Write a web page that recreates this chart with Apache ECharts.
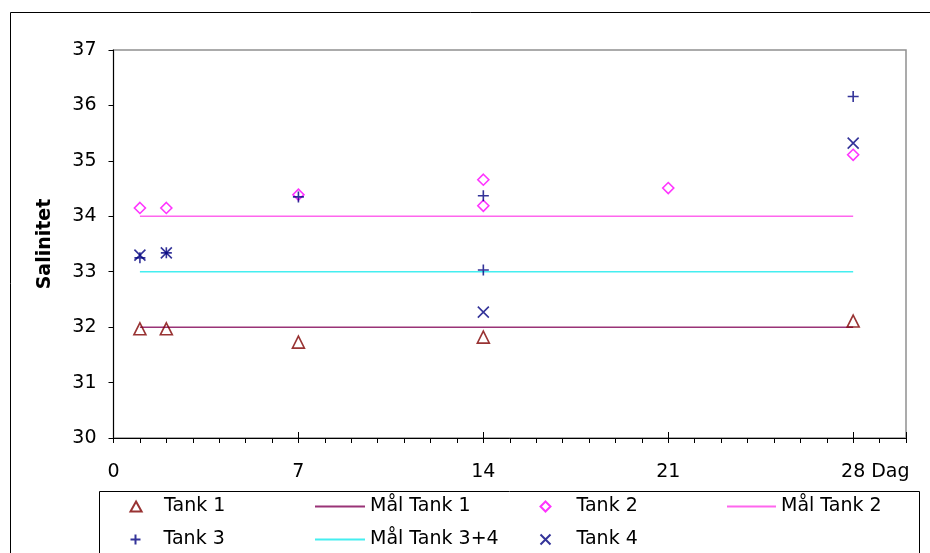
<!DOCTYPE html>
<html>
<head>
<meta charset="utf-8">
<script src="https://cdn.jsdelivr.net/npm/echarts@6/dist/echarts.min.js"></script>
<style>
  html, body { margin: 0; padding: 0; background: #fff; }
  #chart { width: 930px; height: 553px; }
</style>
</head>
<body>
<div id="chart"></div>
<script>
// measured salinity per tank (day, value)
const tank1Days = [1, 2, 7, 14, 28]
const tank1Sal = [31.97, 31.97, 31.73, 31.82, 32.11]
const tank2Days = [1, 2, 7, 14, 14, 21, 28]
const tank2Sal = [34.15, 34.15, 34.39, 34.66, 34.19, 34.51, 35.11]
const tank3Days = [1, 2, 7, 14, 14, 28]
const tank3Sal = [33.25, 33.34, 34.35, 34.37, 33.03, 36.16]
const tank4Days = [1, 2, 14, 28]
const tank4Sal = [33.30, 33.34, 32.27, 35.32]

// target lines
const targetDays = [1, 28]
const maal1 = [32, 32]
const maal2 = [34, 34]
const maal34 = [33, 33]

const xTicks = [0, 7, 14, 21, 28]

const FONT = 'DejaVu Sans'
const pair = (days, vals) => days.map((d, i) => [d, vals[i]])

// outline symbols as paths so they keep their shape in the legend too
const triPath = 'path://M5,0L10,9L0,9Z'
const diamondPath = 'path://M5,0L10,5L5,10L0,5Z'
const plusPath = 'path://M5,0L5,10M0,5L10,5'
const crossPath = 'path://M0,0L10,10M0,10L10,0'

function scatter(name, days, vals, symbol, color, size) {
  return {
    name: name,
    type: 'scatter',
    data: pair(days, vals),
    symbol: symbol,
    symbolSize: size,
    itemStyle: { color: 'none', borderColor: color, borderWidth: 1.6 },
    xAxisIndex: 0,
    yAxisIndex: 0,
    z: 5
  }
}

function target(name, vals, color) {
  return {
    name: name,
    type: 'line',
    data: pair(targetDays, vals),
    symbol: 'none',
    lineStyle: { color: color, width: 1.5 },
    itemStyle: { color: color },
    xAxisIndex: 0,
    yAxisIndex: 0,
    z: 2
  }
}

const legendText = { fontFamily: FONT, fontSize: 19, color: '#000' }

// one legend per entry so the 2-row layout sits where the original has it
// (wide item box leaves room between the small symbol and the text)
function markLegend(name, left, top, boxW) {
  return {
    data: [name], left: left, top: top, padding: 0,
    itemWidth: boxW, itemHeight: 10, symbolKeepAspect: true,
    textStyle: legendText
  }
}
function lineLegend(name, left, top, w) {
  return {
    data: [{ name: name, icon: 'rect' }], left: left, top: top, padding: 0,
    itemWidth: w, itemHeight: 2,
    textStyle: legendText
  }
}

var chart = echarts.init(document.getElementById('chart'))
chart.setOption({
  animation: false,
  graphic: [{
    type: 'rect',
    shape: { x: 10.5, y: 12.5, width: 940, height: 560 },
    style: { fill: 'none', stroke: '#000', lineWidth: 1 },
    silent: true
  }, {
    type: 'rect',
    shape: { x: 99.5, y: 491.5, width: 820, height: 80 },
    style: { fill: 'none', stroke: '#000', lineWidth: 1 },
    silent: true
  }],
  grid: [{
    left: 113.5, top: 50, right: 24, bottom: 115,
    show: true, borderColor: '#909090', borderWidth: 1.5
  }, {
    left: 113.5, top: 50, right: 24, bottom: 115
  }],
  legend: [
    markLegend('Tank 1', 128, 497, 46),
    lineLegend('Mål Tank 1', 315, 497, 50),
    markLegend('Tank 2', 538, 497, 52),
    lineLegend('Mål Tank 2', 727, 497, 49),
    markLegend('Tank 3', 128, 530, 46),
    lineLegend('Mål Tank 3+4', 315, 530, 50),
    markLegend('Tank 4', 538, 530, 52)
  ],
  xAxis: [{
    type: 'value',
    gridIndex: 0,
    min: 0, max: 30, interval: 7,
    name: 'Dag',
    nameLocation: 'end',
    nameGap: 0,
    nameTextStyle: {
      fontFamily: FONT, fontSize: 19, color: '#000',
      align: 'right', verticalAlign: 'top', padding: [25, 4, 0, 0]
    },
    axisLine: { onZero: false, lineStyle: { color: '#000', width: 1 } },
    axisTick: { inside: true, length: 6, lineStyle: { color: '#000' } },
    axisLabel: {
      margin: 25, fontFamily: FONT, fontSize: 19, color: '#000',
      formatter: v => xTicks.indexOf(v) >= 0 ? String(v) : ''
    },
    splitLine: { show: false }
  }, {
    // day ticks below the axis
    type: 'value',
    gridIndex: 1,
    min: 0, max: 30, interval: 1,
    axisLine: { show: false },
    axisTick: { length: 5, lineStyle: { color: '#000' } },
    axisLabel: { show: false },
    splitLine: { show: false }
  }],
  yAxis: [{
    type: 'value',
    gridIndex: 0,
    min: 30, max: 37, interval: 1,
    name: 'Salinitet',
    nameLocation: 'middle',
    nameGap: 59,
    nameTextStyle: { fontFamily: FONT, fontSize: 19, fontWeight: 'bold', color: '#000' },
    axisLine: { show: true, onZero: false, lineStyle: { color: '#000', width: 1 } },
    axisTick: { show: true, length: 5, lineStyle: { color: '#000' } },
    axisLabel: { margin: 17, fontFamily: FONT, fontSize: 19, color: '#000' },
    splitLine: { show: false }
  }, {
    type: 'value',
    gridIndex: 1,
    min: 30, max: 37,
    show: false
  }],
  series: [
    target('Mål Tank 1', maal1, '#993377'),
    target('Mål Tank 2', maal2, '#ff66ee'),
    target('Mål Tank 3+4', maal34, '#44eef0'),
    scatter('Tank 1', tank1Days, tank1Sal, triPath, '#800000', 12),
    scatter('Tank 2', tank2Days, tank2Sal, diamondPath, '#ff00ff', 11),
    scatter('Tank 3', tank3Days, tank3Sal, plusPath, '#000080', 11),
    scatter('Tank 4', tank4Days, tank4Sal, crossPath, '#000080', 11)
  ]
})
</script>
</body>
</html>
